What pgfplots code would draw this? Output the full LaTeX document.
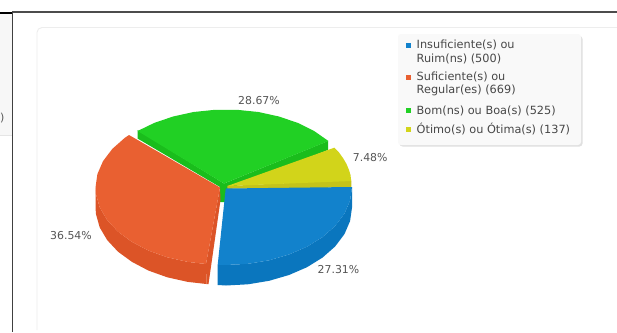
\documentclass[border=0pt]{standalone}
\usepackage{fontspec}
\setmainfont{DejaVu Sans}
\usepackage{pgfplots}
\pgfplotsset{compat=1.18}
\definecolor{bluetop}{HTML}{1282CC}
\definecolor{bluewall}{HTML}{0A76BE}
\definecolor{orangetop}{HTML}{E96031}
\definecolor{orangewall}{HTML}{DC5427}
\definecolor{greentop}{HTML}{21D024}
\definecolor{greenwall}{HTML}{1ABD1C}
\definecolor{yellowtop}{HTML}{D2D41A}
\definecolor{yellowwall}{HTML}{C4C31A}
\definecolor{labelgray}{HTML}{555555}
\begin{document}
\begin{tikzpicture}
\begin{axis}[
  scale only axis, width=617pt, height=332pt,
  xmin=0, xmax=617, ymin=0, ymax=332, y dir=reverse,
  hide axis, clip=true,
  every axis plot/.append style={line width=0pt, draw=none},
]
% page furniture
\fill[white] (axis cs:0,0) rectangle (axis cs:617,332);
\fill[black!3] (axis cs:0,14) rectangle (axis cs:12,135);
\draw[black!10, line width=0.8pt] (axis cs:0,135) -- (axis cs:12,135);
\draw[black, line width=1.5pt] (axis cs:0,13) -- (axis cs:12,13);
\draw[black!70, line width=1.4pt] (axis cs:12,12) -- (axis cs:617,12);
\draw[black!75, line width=1pt] (axis cs:12,12) -- (axis cs:12,332);
\draw[black!7, line width=0.9pt, rounded corners=5pt] (axis cs:37,330) -- (axis cs:37,27.5) -- (axis cs:625,27.5);
\node[anchor=west, text=black!65, font=\fontsize{11}{11}\selectfont, inner sep=0pt] at (axis cs:0,118) {)};

% green
\addplot[fill=greenwall] coordinates {(137.5,130) (137.5,138.5) (220,187) (220,202) (225,202) (226,190) (328,150) (328,141) (224,183.5)} -- cycle;
\addplot[fill=greentop] coordinates {(224,183.5) (137.6,131) (154.3,122.9) (173.1,116.5) (193.6,112) (215.1,109.8) (236.9,109.8) (258.4,112) (278.9,116.5) (297.8,122.9) (314.4,131.2) (328.4,141)} -- cycle;
% yellow
\addplot[fill=yellowwall] coordinates {(227.3,186) (227.3,188.8) (351.5,187.5) (351.2,180)} -- cycle;
\addplot[fill=yellowtop] coordinates {(227.3,186) (334.3,147.7) (339,152.5) (343.3,158.5) (346.5,164) (349,170) (350.5,175) (351.2,181)} -- cycle;
% orange
\addplot[fill=orangewall] coordinates {(206,264) (187.8,261.9) (167.3,257.3) (148.5,250.6) (132,241.9) (118,231.7) (107.2,220.1) (99.7,207.4) (96,194.2) (95.5,187.5) (95.5,207.5) (96,214.2) (99.7,227.4) (107.2,240.1) (118,251.7) (132,261.9) (148.5,270.6) (167.3,277.3) (187.8,281.9) (206.5,284)} -- cycle;
\addplot[fill=orangewall] coordinates {(220,187.5) (206,264) (206.5,284) (208.5,284) (220.5,200)} -- cycle;
\addplot[fill=orangetop] coordinates {(220,187.5) (206,264) (187.8,261.9) (167.3,257.3) (148.5,250.6) (132,241.9) (118,231.7) (107.2,220.1) (99.7,207.4) (96,194.2) (95.5,187.5) (97.4,174.1) (103,161.2) (112.2,149) (124.6,138) (129,135)} -- cycle;
% blue
\addplot[fill=bluewall] coordinates {(352,187) (350.1,200.5) (344.4,213.7) (335.1,226) (322.5,237.1) (307,246.7) (289,254.5) (269.1,260.3) (247.9,263.8) (226,265) (217.7,264.8) (217.7,285) (226,285.5) (247.9,284.3) (269.1,280.8) (289,275) (307,267.2) (322.5,257.6) (335.1,246.5) (344.4,234.2) (350.1,221) (352,207.5)} -- cycle;
\addplot[fill=bluetop] coordinates {(225.7,188.5) (352,187) (350.1,200.5) (344.4,213.7) (335.1,226) (322.5,237.1) (307,246.7) (289,254.5) (269.1,260.3) (247.9,263.8) (226,265) (217.7,264.8)} -- cycle;

% data labels
\begin{scope}[every node/.style={text=labelgray, font=\fontsize{10.9}{11}\selectfont, inner sep=0pt}]
\node at (axis cs:259,101) {28.67\%};
\node at (axis cs:370.2,157.5) {7.48\%};
\node at (axis cs:338.5,269.5) {27.31\%};
\node at (axis cs:71,235.5) {36.54\%};
\end{scope}

% legend
\fill[black!12, rounded corners=3pt] (axis cs:399.5,36) rectangle (axis cs:582.5,146.5);
\fill[black!2.5, rounded corners=3pt] (axis cs:398,34) rectangle (axis cs:581,145);
\fill[bluetop] (axis cs:406,42.5) rectangle (axis cs:410.5,47.5);
\fill[orangetop] (axis cs:406,75) rectangle (axis cs:410.5,80);
\fill[greentop] (axis cs:406,108) rectangle (axis cs:410.5,113);
\fill[yellowtop] (axis cs:406,127) rectangle (axis cs:410.5,132);
\begin{scope}[every node/.style={anchor=base west, text=black!72, font=\fontsize{11.3}{12}\selectfont, inner sep=0pt}]
\node at (axis cs:416.5,48.5) {Insuficiente(s) ou};
\node at (axis cs:416.5,62) {Ruim(ns) (500)};
\node at (axis cs:416.5,80.5) {Suficiente(s) ou};
\node at (axis cs:416.5,93.5) {Regular(es) (669)};
\node at (axis cs:416.5,114.5) {Bom(ns) ou Boa(s) (525)};
\node at (axis cs:416.5,133.5) {Ótimo(s) ou Ótima(s) (137)};
\end{scope}
\end{axis}
\end{tikzpicture}
\end{document}
